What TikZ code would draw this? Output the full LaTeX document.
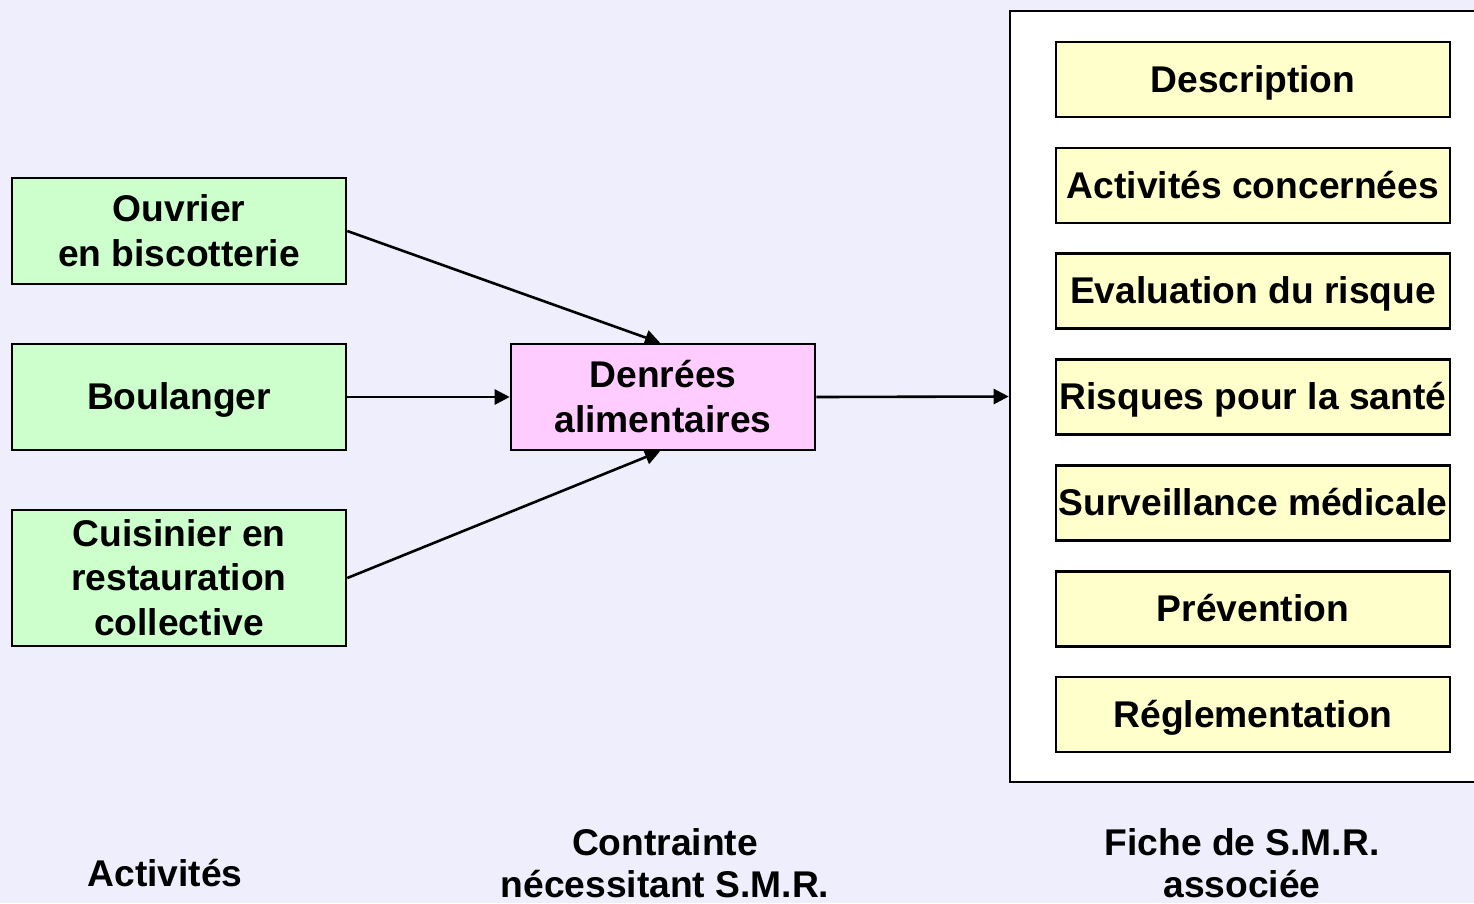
\documentclass[tikz,border=0pt]{standalone}
\usepackage{fontspec}
\setmainfont{Liberation Sans}
\usetikzlibrary{arrows.meta}
\definecolor{bgc}{RGB}{238,238,252}
\definecolor{greenc}{RGB}{204,255,204}
\definecolor{pinkc}{RGB}{255,204,255}
\definecolor{yellowc}{RGB}{255,255,204}
\newcommand\ls{\rule[-0.212em]{0pt}{1.117em}}
\tikzset{
  box/.style={draw=black, line width=2.6pt, inner sep=0pt, align=center,
    font=\fontsize{37.2}{44.5}\selectfont\bfseries},
  actbox/.style={box, fill=greenc, minimum width=334pt, minimum height=106pt},
  cbox/.style={box, fill=pinkc, minimum width=304pt, minimum height=106pt},
  ybox/.style={box, fill=yellowc, minimum width=394pt, minimum height=75pt},
  lbl/.style={inner sep=0pt, align=center, anchor=base,
    font=\fontsize{37.2}{42}\selectfont\bfseries},
  conn/.style={line width=2.6pt, -{Triangle[length=15pt,width=15pt]}}
}
\begin{document}
\begin{tikzpicture}[x=1pt,y=-1pt]
\fill[bgc] (0,0) rectangle (1474,903);
\useasboundingbox (0,0) rectangle (1474,903);
% outer fiche box
\node[draw=black, line width=2.6pt, fill=white, minimum width=470pt, minimum height=771pt, inner sep=0pt] (fiche) at (1245,396.5) {};
% activities
\node[actbox] (b1) at (179,231) {\ls Ouvrier\\\ls en biscotterie};
\node[actbox] (b2) at (179,397) {\ls Boulanger};
\node[actbox, minimum height=136pt] (b3) at (179,578) {\ls Cuisinier en\\\ls restauration\\\ls collective};
% constraint
\node[cbox] (cb) at (663,397) {\ls Denrées\\\ls alimentaires};
% fiche items
\node[ybox] (y1) at (1253,79.5) {\ls Description};
\node[ybox] (y2) at (1253,185.5) {\ls Activités concernées};
\node[ybox] (y3) at (1253,291) {\ls Evaluation du risque};
\node[ybox] (y4) at (1253,397) {\ls Risques pour la santé};
\node[ybox] (y5) at (1253,503) {\ls Surveillance médicale};
\node[ybox] (y6) at (1253,609) {\ls Prévention};
\node[ybox] (y7) at (1253,714.5) {\ls Réglementation};
% connectors
\draw[conn] (b1.east) -- ([xshift=-3pt]cb.north);
\draw[conn] (b2.east) -- (cb.west);
\draw[conn] (b3.east) -- ([xshift=-3pt]cb.south);
\draw[conn] (cb.east) -- (fiche.west);
% bottom labels
\node[lbl] (l1) at (165,886) {Activités};
\node[lbl] (l2) at (665,897) {Contrainte\\nécessitant S.M.R.};
\node[lbl] (l3) at (1242,897) {Fiche de S.M.R.\\associée};
\end{tikzpicture}
\end{document}
